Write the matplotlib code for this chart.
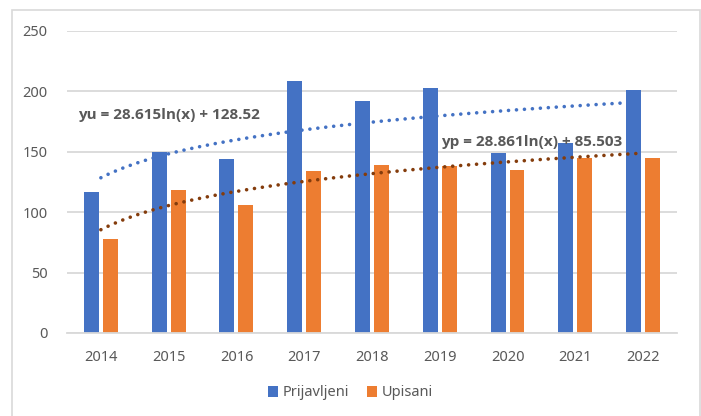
import numpy as np
import matplotlib
matplotlib.use('Agg')
import matplotlib.pyplot as plt
from matplotlib.patches import Rectangle

# data
years = ['2014', '2015', '2016', '2017', '2018', '2019', '2020', '2021', '2022']
prijavljeni = [117, 150, 144, 209, 192, 203, 149, 157, 201]
upisani = [78, 118, 106, 134, 139, 138, 135, 145, 145]

# logarithmic trendlines as printed on the chart
yu_a, yu_b = 28.615, 128.52
yp_a, yp_b = 28.861, 85.503

blue = '#4472C4'
orange = '#ED7D31'
brown = '#843C0C'
grey = '#595959'
grid = '#D9D9D9'

plt.rcParams['font.family'] = ['Noto Sans', 'DejaVu Sans']

fig = plt.figure(figsize=(7.01, 4.16), dpi=100)
ax = fig.add_axes([67 / 701, 1 - 333 / 416, 610 / 701, 302 / 416])

# chart border
fig.patches.append(Rectangle((12 / 701, -0.05), 688 / 701, 1 - 10 / 416 + 0.05,
                             transform=fig.transFigure, fill=False,
                             edgecolor=grid, linewidth=1.2))

x = np.arange(len(years))
w = 0.22
ax.bar(x - 0.14, prijavljeni, w, color=blue, label='Prijavljeni', zorder=2)
ax.bar(x + 0.14, upisani, w, color=orange, label='Upisani', zorder=2)

# trendlines drawn from the equations shown
t = np.linspace(1, len(years), 200)
dots = (0, (0.01, 2.2))
ax.plot(t - 1, yu_a * np.log(t) + yu_b, color=blue, lw=2.6, linestyle=dots,
        dash_capstyle='round', zorder=3)
ax.plot(t - 1, yp_a * np.log(t) + yp_b, color=brown, lw=2.6, linestyle=dots,
        dash_capstyle='round', zorder=3)

eq = dict(transform=fig.transFigure, fontsize=11, fontweight='bold', color=grey,
          va='center', ha='left', zorder=4, family=['Open Sans', 'DejaVu Sans'])
ax.text(78 / 701, 1 - 115 / 416, 'yu = 28.615ln(x) + 128.52', **eq)
ax.text(441 / 701, 1 - 142 / 416, 'yp = 28.861ln(x) + 85.503', **eq)

ax.set_xlim(-0.5, len(years) - 0.5)
ax.set_ylim(0, 250)
ax.set_yticks([0, 50, 100, 150, 200, 250])
ax.set_xticks(x)
ax.set_xticklabels(years)
ax.tick_params(axis='both', length=0, labelsize=10.5, labelcolor=grey)
ax.tick_params(axis='y', pad=14)
ax.tick_params(axis='x', pad=12)
ax.yaxis.grid(True, color=grid, linewidth=1.3, zorder=0)
ax.set_axisbelow(True)
for s in ['top', 'right', 'left']:
    ax.spines[s].set_visible(False)
ax.spines['bottom'].set_color(grid)
ax.spines['bottom'].set_linewidth(1.3)

fig.legend(loc='center', bbox_to_anchor=(0.5, 1 - 393 / 416), ncol=2, frameon=False,
           fontsize=10.5, labelcolor=grey, handlelength=0.7, handleheight=0.7,
           handletextpad=0.3, columnspacing=1.2)

plt.savefig('out.png', dpi=100)
